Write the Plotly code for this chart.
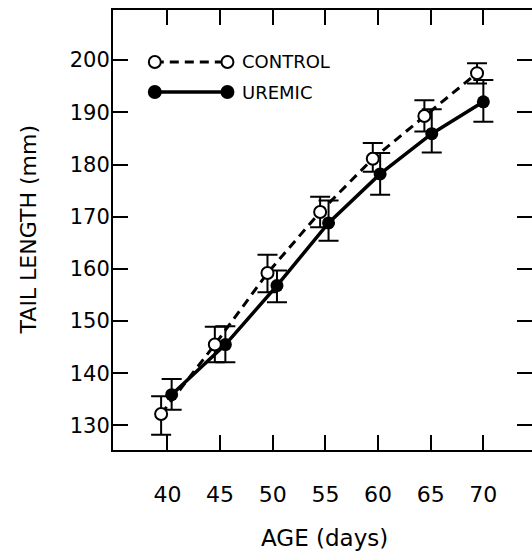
import plotly.graph_objects as go

# Data
control_age = [39.4, 44.5, 49.5, 54.5, 59.5, 64.4, 69.4]
control_len = [132.2, 145.5, 159.2, 170.9, 181.1, 189.3, 197.5]
control_err_up = [3.4, 3.4, 3.5, 2.9, 3.0, 3.0, 1.9]
control_err_dn = [4.0, 3.4, 3.7, 2.9, 2.5, 3.0, 2.0]

uremic_age = [40.4, 45.5, 50.4, 55.3, 60.2, 65.1, 70.0]
uremic_len = [135.9, 145.5, 156.8, 168.8, 178.2, 185.9, 192.0]
uremic_err_up = [3.0, 3.5, 2.9, 4.3, 4.0, 4.7, 4.2]
uremic_err_dn = [2.9, 3.4, 3.2, 3.4, 4.0, 3.6, 3.8]

x_ticks = [40, 45, 50, 55, 60, 65, 70]
y_ticks = [130, 140, 150, 160, 170, 180, 190, 200]

FONT = "DejaVu Sans"
PLOT_W = 421.0  # plot area extends slightly past the window's right edge, like the cropped reference

fig = go.Figure()

fig.add_trace(go.Scatter(
    x=uremic_age, y=uremic_len, mode="lines+markers", name="UREMIC",
    line=dict(color="black", width=3.5),
    marker=dict(symbol="circle", size=13, color="black"),
    error_y=dict(type="data", symmetric=False, array=uremic_err_up,
                 arrayminus=uremic_err_dn, color="black", thickness=2, width=10),
))
fig.add_trace(go.Scatter(
    x=control_age, y=control_len, mode="lines+markers", name="CONTROL",
    line=dict(color="black", width=3, dash="9px,6px"),
    marker=dict(symbol="circle", size=12, color="white",
                line=dict(color="black", width=2)),
    error_y=dict(type="data", symmetric=False, array=control_err_up,
                 arrayminus=control_err_dn, color="black", thickness=2, width=10),
))

axis_common = dict(
    showline=True, linecolor="black", linewidth=2, mirror="ticks",
    ticks="inside", ticklen=15, tickwidth=2, tickcolor="black",
    showgrid=False, zeroline=False,
)

fig.update_xaxes(range=[34.83, 74.62], tickvals=x_ticks, ticklabelstandoff=24,
                 tickfont=dict(family=FONT, size=22, color="black"), **axis_common)
fig.update_yaxes(range=[125.3, 209.6], tickvals=y_ticks, ticklabelstandoff=-3,
                 tickfont=dict(family=FONT, size=21, color="black"), **axis_common)

# Legend drawn inside the plot (paper coordinates)
def px_to_paper_x(px):
    return (px - 113) / PLOT_W

def px_to_paper_y(py):
    return (450 - py) / 440.0

shapes = []
annotations = []
for label, py, dashed, filled in [("CONTROL", 62, True, False), ("UREMIC", 92, False, True)]:
    x0, x1 = px_to_paper_x(155), px_to_paper_x(228)
    yy = px_to_paper_y(py)
    shapes.append(dict(type="line", xref="paper", yref="paper", x0=x0, x1=x1, y0=yy, y1=yy,
                       line=dict(color="black", width=3 if dashed else 3.5,
                                 dash="9px,6px" if dashed else "solid")))
    r = 6
    for cx in (155, 228):
        shapes.append(dict(type="circle", xref="paper", yref="paper",
                           x0=px_to_paper_x(cx - r), x1=px_to_paper_x(cx + r),
                           y0=px_to_paper_y(py + r), y1=px_to_paper_y(py - r),
                           fillcolor="black" if filled else "white",
                           line=dict(color="black", width=2)))
    annotations.append(dict(xref="paper", yref="paper", x=px_to_paper_x(241), y=yy,
                            xanchor="left", yanchor="middle", showarrow=False,
                            text=label, font=dict(family=FONT, size=18, color="black")))

annotations.append(dict(xref="paper", yref="paper", x=px_to_paper_x(28), y=px_to_paper_y(230),
                        xanchor="center", yanchor="middle", showarrow=False, textangle=-90,
                        text="TAIL LENGTH (mm)", font=dict(family=FONT, size=22, color="black")))
annotations.append(dict(xref="paper", yref="paper", x=px_to_paper_x(326), y=px_to_paper_y(538),
                        xanchor="center", yanchor="middle", showarrow=False,
                        text="AGE (days)", font=dict(family=FONT, size=23, color="black")))

fig.update_layout(
    width=534, height=555,
    margin=dict(l=113, r=0, t=10, b=105),
    paper_bgcolor="white", plot_bgcolor="white",
    showlegend=False,
    shapes=shapes, annotations=annotations,
)

fig.write_html(
    "out.html",
    config={"displayModeBar": False},
    post_script="document.body.style.margin='0';document.body.style.overflow='hidden';",
)
